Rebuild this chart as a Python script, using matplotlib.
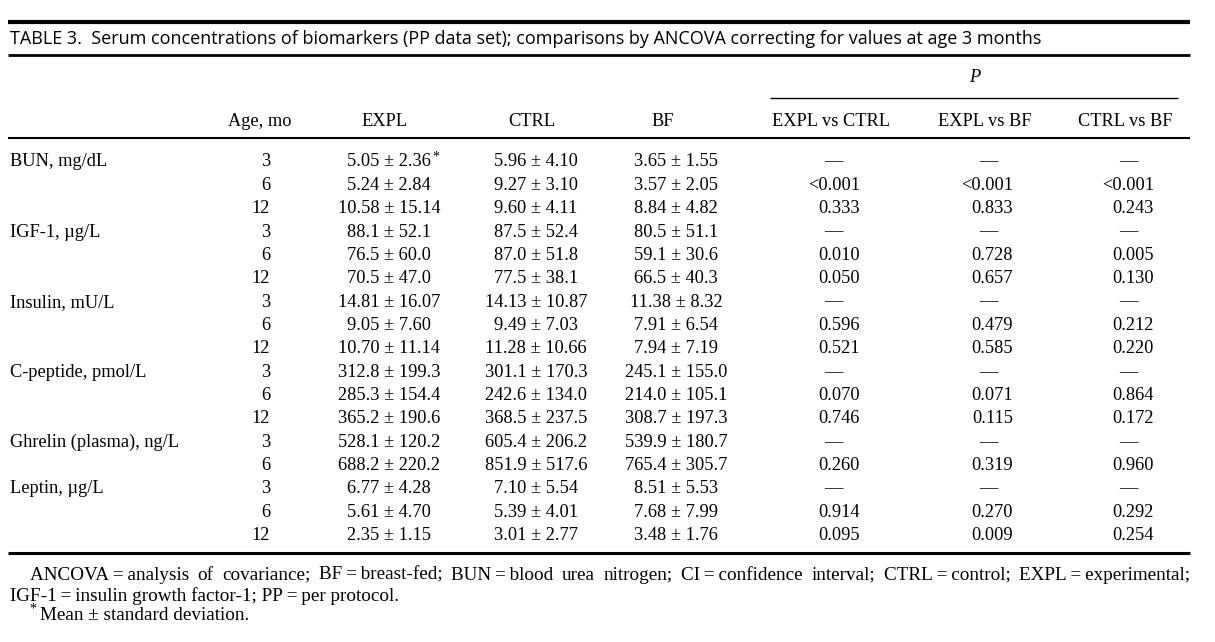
#! /usr/bin/env python
import matplotlib
matplotlib.use('Agg')
import matplotlib.pyplot as plt

# table content
markers = ['BUN, mg/dL', 'IGF-1, µg/L', 'Insulin, mU/L', 'C-peptide, pmol/L',
           'Ghrelin (plasma), ng/L', 'Leptin, µg/L']
ages = [[3, 6, 12], [3, 6, 12], [3, 6, 12], [3, 6, 12], [3, 6], [3, 6, 12]]

expl_mean = ['5.05', '5.24', '10.58', '88.1', '76.5', '70.5', '14.81', '9.05', '10.70',
             '312.8', '285.3', '365.2', '528.1', '688.2', '6.77', '5.61', '2.35']
expl_sd = ['2.36', '2.84', '15.14', '52.1', '60.0', '47.0', '16.07', '7.60', '11.14',
           '199.3', '154.4', '190.6', '120.2', '220.2', '4.28', '4.70', '1.15']
ctrl_mean = ['5.96', '9.27', '9.60', '87.5', '87.0', '77.5', '14.13', '9.49', '11.28',
             '301.1', '242.6', '368.5', '605.4', '851.9', '7.10', '5.39', '3.01']
ctrl_sd = ['4.10', '3.10', '4.11', '52.4', '51.8', '38.1', '10.87', '7.03', '10.66',
           '170.3', '134.0', '237.5', '206.2', '517.6', '5.54', '4.01', '2.77']
bf_mean = ['3.65', '3.57', '8.84', '80.5', '59.1', '66.5', '11.38', '7.91', '7.94',
           '245.1', '214.0', '308.7', '539.9', '765.4', '8.51', '7.68', '3.48']
bf_sd = ['1.55', '2.05', '4.82', '51.1', '30.6', '40.3', '8.32', '6.54', '7.19',
         '155.0', '105.1', '197.3', '180.7', '305.7', '5.53', '7.99', '1.76']

p_expl_ctrl = ['—', '<0.001', '0.333', '—', '0.010', '0.050', '—', '0.596', '0.521',
               '—', '0.070', '0.746', '—', '0.260', '—', '0.914', '0.095']
p_expl_bf = ['—', '<0.001', '0.833', '—', '0.728', '0.657', '—', '0.479', '0.585',
             '—', '0.071', '0.115', '—', '0.319', '—', '0.270', '0.009']
p_ctrl_bf = ['—', '<0.001', '0.243', '—', '0.005', '0.130', '—', '0.212', '0.220',
             '—', '0.864', '0.172', '—', '0.960', '—', '0.292', '0.254']

title = ('TABLE 3.  Serum concentrations of biomarkers (PP data set); comparisons by '
         'ANCOVA correcting for values at age 3 months')
eq = '\u2009=\u2009'
foot1 = ('ANCOVA' + eq + 'analysis of covariance; BF' + eq + 'breast-fed; BUN' + eq +
         'blood urea nitrogen; CI' + eq + 'confidence interval; CTRL' + eq + 'control; EXPL' +
         eq + 'experimental;')
foot2 = 'IGF-1' + eq + 'insulin growth factor-1; PP' + eq + 'per protocol.'
foot3 = 'Mean ± standard deviation.'

W, H = 1215, 642
fig = plt.figure(figsize=(W / 100, H / 100), dpi=100)
ax = fig.add_axes([0, 0, 1, 1])
ax.set_xlim(0, W)
ax.set_ylim(H, 0)
ax.axis('off')

serif = 'Liberation Serif'
fs = 13.2

# rules
ax.hlines(22, 8, 1190, color='black', lw=3.0)
ax.hlines(55, 8, 1190, color='black', lw=2.0)
ax.hlines(98, 770, 1178, color='black', lw=1.0)
ax.hlines(138, 8, 1190, color='black', lw=1.5)
ax.hlines(553, 8, 1190, color='black', lw=2.2)

ax.text(10, 39, title, family='Open Sans', fontsize=13, va='center', ha='left')

# header
ax.text(975, 78, 'P', family=serif, style='italic', fontsize=fs, va='center', ha='center')
hdr = [('Age, mo', 260), ('EXPL', 384), ('CTRL', 532), ('BF', 663),
       ('EXPL vs CTRL', 831), ('EXPL vs BF', 985), ('CTRL vs BF', 1125)]
for lab, x in hdr:
    ax.text(x, 122, lab, family=serif, fontsize=fs, va='center', ha='center')

# body
y0, dy = 162, 23.35
row = 0
for name, ag in zip(markers, ages):
    ax.text(10, y0 + row * dy, name, family=serif, fontsize=fs, va='center', ha='left')
    for a in ag:
        y = y0 + row * dy
        ax.text(270, y, str(a), family=serif, fontsize=fs, va='center', ha='right')
        t = ax.text(389, y, expl_mean[row] + ' ± ' + expl_sd[row], family=serif,
                    fontsize=fs, va='center', ha='center')
        if row == 0:
            ax.annotate('*', xy=(1, 1), xycoords=t, xytext=(1, 2), textcoords='offset points',
                        family=serif, fontsize=10, va='top', ha='left')
        ax.text(536, y, ctrl_mean[row] + ' ± ' + ctrl_sd[row], family=serif,
                fontsize=fs, va='center', ha='center')
        ax.text(676, y, bf_mean[row] + ' ± ' + bf_sd[row], family=serif,
                fontsize=fs, va='center', ha='center')
        for plist, xr, xc in [(p_expl_ctrl, 860, 833), (p_expl_bf, 1013, 988),
                              (p_ctrl_bf, 1154, 1128)]:
            s = plist[row]
            if s == '—':
                ax.text(xc, y, s, family=serif, fontsize=fs, va='center', ha='center')
            else:
                ax.text(xr, y, s, family=serif, fontsize=fs, va='center', ha='right')
        row += 1

# footnotes, first line justified to the rule width
ffs = 13.8
renderer = fig.canvas.get_renderer()
words = foot1.split(' ')
arts = [ax.text(0, 575, w, family=serif, fontsize=ffs, va='center', ha='left') for w in words]
widths = [a.get_window_extent(renderer).width for a in arts]
x_left, x_right = 30, 1190
gap = (x_right - x_left - sum(widths)) / (len(words) - 1)
x = x_left
for a, w in zip(arts, widths):
    a.set_x(x)
    x += w + gap

ax.text(10, 596, foot2, family=serif, fontsize=ffs, va='center', ha='left')
ax.text(29, 609, '*', family=serif, fontsize=10, va='center', ha='left')
ax.text(40, 616, foot3, family=serif, fontsize=ffs, va='center', ha='left')

fig.savefig('out.png', dpi=100)
